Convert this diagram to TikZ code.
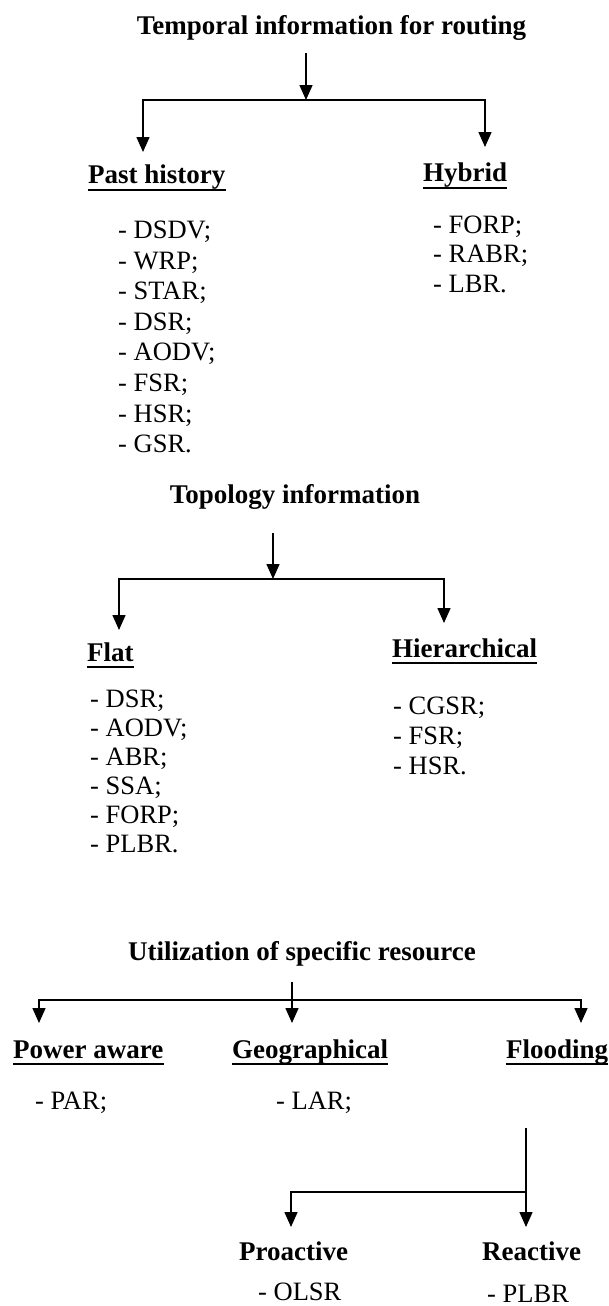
\documentclass[tikz,border=0pt]{standalone}
\usepackage{fontspec}
\setmainfont{Liberation Serif}
\usetikzlibrary{arrows.meta}
\begin{document}
\begin{tikzpicture}[x=1pt,y=-1pt,
  head/.style={font=\fontsize{27}{32}\selectfont\bfseries, inner sep=0pt, anchor=base},
  cat/.style={font=\fontsize{27}{32}\selectfont\bfseries, inner sep=0pt, anchor=base west},
  entry/.style={font=\fontsize{26.5}{31}\selectfont, inner sep=0pt, anchor=base west},
  link/.style={line width=1.5pt},
  arr/.style={link, -{Triangle[length=15pt,width=13pt]}},
  uline/.style={line width=1.7pt}]
\useasboundingbox (0,0) rectangle (608,1306);

% ---------- temporal information ----------
\node[head] (t1) at (331.5,35) {Temporal information for routing};
\coordinate (a1) at (306,53);
\coordinate (j1) at (306,100);
\coordinate (p1) at (143,152);
\coordinate (h1) at (485,147);
\draw[arr] (a1) -- (j1);
\draw[arr] (j1) -| (p1);
\draw[arr] (j1) -| (h1);

\node[cat] (past) at (88,183) {Past history};
\node[cat] (hyb) at (423,181) {Hybrid};
\foreach \n in {past,hyb}
  \draw[uline] ([yshift=-7pt]\n.base west) -- ([yshift=-7pt]\n.base east);

\foreach \t [count=\i from 0] in {DSDV;,WRP;,STAR;,DSR;,AODV;,FSR;,HSR;,GSR.}
  \node[entry] (ph\i) at (118,{238.5+30.6*\i}) {- \t};
\foreach \t [count=\i from 0] in {FORP;,RABR;,LBR.}
  \node[entry] (hy\i) at (433,{233+29.5*\i}) {- \t};

% ---------- topology information ----------
\node[head] (t2) at (295,503) {Topology information};
\coordinate (a2) at (273,533);
\coordinate (j2) at (273,579);
\coordinate (f2) at (119,630);
\coordinate (r2) at (444,623);
\draw[arr] (a2) -- (j2);
\draw[arr] (j2) -| (f2);
\draw[arr] (j2) -| (r2);

\node[cat] (flat) at (87,661) {Flat};
\node[cat] (hier) at (392,657) {Hierarchical};
\foreach \n in {flat,hier}
  \draw[uline] ([yshift=-6pt]\n.base west) -- ([yshift=-6pt]\n.base east);

\foreach \t [count=\i from 0] in {DSR;,AODV;,ABR;,SSA;,FORP;,PLBR.}
  \node[entry] (fl\i) at (90,{707.5+29*\i}) {- \t};
\foreach \t [count=\i from 0] in {CGSR;,FSR;,HSR.}
  \node[entry] (hi\i) at (393,{714.5+30*\i}) {- \t};

% ---------- utilization of specific resource ----------
\node[head] (t3) at (302,960) {Utilization of specific resource};
\coordinate (a3) at (292,982);
\coordinate (j3) at (292,1000);
\coordinate (pw3) at (39,1023);
\coordinate (g3) at (292,1023);
\coordinate (fl3) at (581,1023);
\draw[arr] (a3) -- (g3);
\draw[arr] (j3) -| (pw3);
\draw[arr] (j3) -| (fl3);

\node[cat] (pow) at (13,1058) {Power aware};
\node[cat] (geo) at (232,1058) {Geographical};
\node[cat] (flood) at (506,1058) {Flooding};
\foreach \n in {pow,geo,flood}
  \draw[uline] ([yshift=-6pt]\n.base west) -- ([yshift=-6pt]\n.base east);

\node[entry] (par) at (35,1109) {- PAR;};
\node[entry] (lar) at (276,1109) {- LAR;};

% ---------- flooding split ----------
\coordinate (a4) at (526,1128);
\coordinate (j4) at (526,1192);
\coordinate (pro4) at (291,1227);
\coordinate (rea4) at (526,1227);
\draw[arr] (a4) -- (rea4);
\draw[arr] (j4) -| (pro4);

\node[cat] (pro) at (239,1260) {Proactive};
\node[cat] (rea) at (482,1260) {Reactive};
\node[entry] (olsr) at (258,1300) {- OLSR};
\node[entry] (plbr) at (487,1302) {- PLBR};
\end{tikzpicture}
\end{document}
